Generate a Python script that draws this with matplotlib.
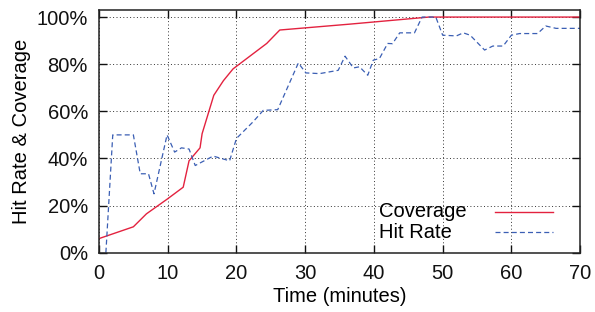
import matplotlib
matplotlib.use("Agg")
import matplotlib.pyplot as plt
from matplotlib.lines import Line2D
from matplotlib.ticker import FuncFormatter

plt.rcParams['font.family'] = ['Liberation Sans', 'DejaVu Sans']

# Coverage curve (minutes, percent)
cov_t = [0, 5, 6.9, 9.9, 12.25, 13.1, 14.7, 15, 16.7, 18.1, 19.5, 24.4, 26.3, 36.5, 48, 70]
cov_v = [6, 11, 16.5, 22.7, 27.8, 39, 44.5, 50.5, 66.8, 73, 78, 88.8, 94.5, 97, 100, 100]

# Hit rate curve (minutes, percent)
hit_t = [1, 2, 5, 6, 7.2, 8, 9.9, 11, 12, 13.1, 14, 16.6, 19, 20, 22.4, 23.9, 26,
         29, 30.1, 32.1, 34.8, 35.8, 37, 37.9, 39.1, 39.9, 40.8, 42, 42.7, 43.75,
         45.9, 47, 49, 50, 52, 53, 54, 56.1, 57.3, 58.8, 60, 61.2, 63.8, 65, 66.5, 70]
hit_v = [0, 50, 50, 33.5, 33.5, 25, 50, 42.7, 44.5, 44, 37, 41, 39, 48.5, 55.5, 60.4, 60.7,
         80.5, 76.3, 76, 77.4, 83.4, 78.4, 78.9, 75.3, 81.7, 82.4, 88.8, 88.7, 93.3,
         93.3, 100, 100, 92.3, 92, 93.3, 92.3, 86, 87.7, 87.7, 92.3, 93, 93, 96.2, 95.2, 95.2]

x_ticks = [0, 10, 20, 30, 40, 50, 60, 70]
y_ticks = [0, 20, 40, 60, 80, 100]

red = '#e3223f'
blue = '#3b5fb4'

fig = plt.figure(figsize=(5.95, 3.12), dpi=100)
ax = fig.add_axes([0.1664, 0.19, 0.8086, 0.778])

ax.plot(cov_t, cov_v, color=red, lw=1.0)
ax.plot(hit_t, hit_v, color=blue, lw=0.9, dashes=(4, 2.5))

ax.set_xlim(0, 70)
ax.set_ylim(0, 103)
ax.set_xticks(x_ticks)
ax.set_yticks(y_ticks)
ax.yaxis.set_major_formatter(FuncFormatter(lambda v, p: f"{v:.0f}%"))
ax.tick_params(direction='in', length=6, width=1.0, top=True, right=True,
               labelsize=14.5, pad=8, colors='#111111')
ax.grid(True, color='#333333', linestyle=(0, (1, 2.5)), linewidth=0.7)
for s in ax.spines.values():
    s.set_linewidth(1.1)
    s.set_color('#222222')

ax.set_xlabel('Time (minutes)', fontsize=14.5, labelpad=3)
ax.set_ylabel('Hit Rate & Coverage', fontsize=14.5, labelpad=4)

# key, text left-justified with samples on the right
ax.text(0.581, 0.168, 'Coverage', transform=ax.transAxes, fontsize=14.5, va='center', ha='left')
ax.text(0.581, 0.085, 'Hit Rate', transform=ax.transAxes, fontsize=14.5, va='center', ha='left')
ax.add_line(Line2D([0.824, 0.944], [0.168, 0.168], transform=ax.transAxes, color=red, lw=1.0))
ax.add_line(Line2D([0.824, 0.944], [0.085, 0.085], transform=ax.transAxes, color=blue, lw=0.9,
                   dashes=(4, 2.5)))

fig.savefig('out.png', dpi=100)
